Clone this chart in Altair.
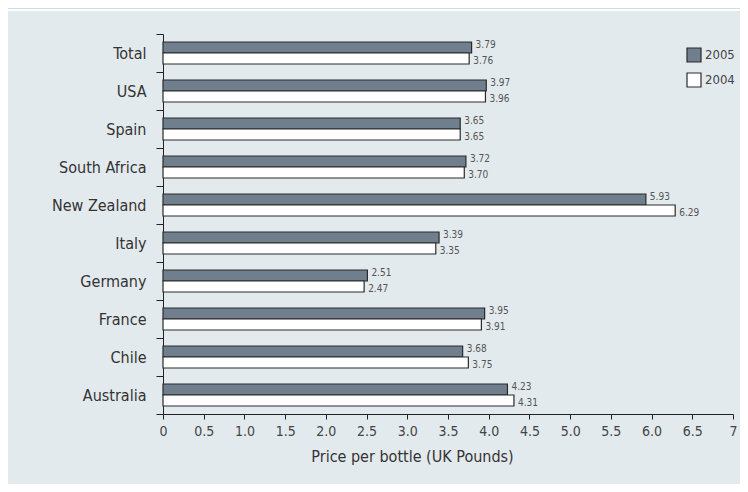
import altair as alt
import pandas as pd

countries = ["Total", "USA", "Spain", "South Africa", "New Zealand", "Italy",
             "Germany", "France", "Chile", "Australia"]
price_2005 = [3.79, 3.97, 3.65, 3.72, 5.93, 3.39, 2.51, 3.95, 3.68, 4.23]
price_2004 = [3.76, 3.96, 3.65, 3.70, 6.29, 3.35, 2.47, 3.91, 3.75, 4.31]
years = ["2005", "2004"]
x_ticks = [0, 0.5, 1.0, 1.5, 2.0, 2.5, 3.0, 3.5, 4.0, 4.5, 5.0, 5.5, 6.0, 6.5, 7]

rows = []
for c, a, b in zip(countries, price_2005, price_2004):
    rows.append({"Country": c, "Year": "2005", "Price": a})
    rows.append({"Country": c, "Year": "2004", "Price": b})
df = pd.DataFrame(rows)

FONT = "DejaVu Sans Condensed, sans-serif"
BG = "#e3eaee"

y_enc = alt.Y("Country:N", sort=countries,
              scale=alt.Scale(paddingInner=0, paddingOuter=0),
              axis=alt.Axis(title=None, tickBand="extent", tickSize=7,
                            tickColor="#222", domainColor="#222", labelPadding=10,
                            labelFontSize=16, labelColor="#333", labelFont=FONT,
                            grid=False))
x_enc = alt.X("Price:Q", scale=alt.Scale(domain=[0, 7], nice=False),
              axis=alt.Axis(title="Price per bottle (UK Pounds)", values=x_ticks,
                            labelExpr="datum.value == 0 ? '0' : datum.value == 7 ? '7' : format(datum.value, '.1f')",
                            tickSize=5, tickColor="#222", domainColor="#222",
                            labelPadding=5, labelFontSize=14, labelColor="#444",
                            labelFont=FONT, titleFont=FONT, titleFontSize=16,
                            titleFontWeight="normal", titleColor="#333",
                            titlePadding=10, titleX=249, titleAlign="center",
                            grid=False, labelFlush=False))
yoff = alt.YOffset("Year:N", sort=years,
                   scale=alt.Scale(paddingInner=0, paddingOuter=0.727))

bars = alt.Chart(df).mark_bar(stroke="#2a2a2a", strokeWidth=1.2).encode(
    y=y_enc, x=x_enc, yOffset=yoff,
    fill=alt.Fill("Year:N", sort=years,
                  scale=alt.Scale(domain=years, range=["#707f8d", "#ffffff"]),
                  legend=alt.Legend(title=None, orient="none", legendX=523, legendY=13,
                                    symbolType="square", symbolSize=196,
                                    symbolStrokeColor="#2a2a2a", symbolStrokeWidth=1.2,
                                    labelFont=FONT, labelFontSize=13, labelColor="#444",
                                    rowPadding=5, labelOffset=3, padding=0)),
)

labels_top = alt.Chart(df).transform_filter(alt.datum.Year == "2005").mark_text(
    align="left", baseline="middle", dx=4, dy=-2, font=FONT, fontSize=10, color="#555"
).encode(y=alt.Y("Country:N", sort=countries), x="Price:Q", yOffset=yoff,
         text=alt.Text("Price:Q", format=".2f"))

labels_bot = alt.Chart(df).transform_filter(alt.datum.Year == "2004").mark_text(
    align="left", baseline="middle", dx=4, dy=2, font=FONT, fontSize=10, color="#555"
).encode(y=alt.Y("Country:N", sort=countries), x="Price:Q", yOffset=yoff,
         text=alt.Text("Price:Q", format=".2f"))

band_df = pd.DataFrame({"k": [0]})
top_band = alt.Chart(band_df).mark_rect(color="#d0dbe3").encode(
    x=alt.value(-155), x2=alt.value(577), y=alt.value(-26), y2=alt.value(-25))
top_line = alt.Chart(band_df).mark_rect(color="#ffffff").encode(
    x=alt.value(-155), x2=alt.value(577), y=alt.value(-25), y2=alt.value(-23))

chart = alt.layer(top_band, top_line, bars, labels_top, labels_bot).properties(
    width=570, height=380,
    autosize=alt.AutoSizeParams(type="none"),
    padding={"left": 155, "top": 26, "right": 7, "bottom": 70},
    background=BG,
).configure_view(stroke=None, fill=BG)

chart.save("out.html", embed_options={"renderer": "svg", "actions": False})
